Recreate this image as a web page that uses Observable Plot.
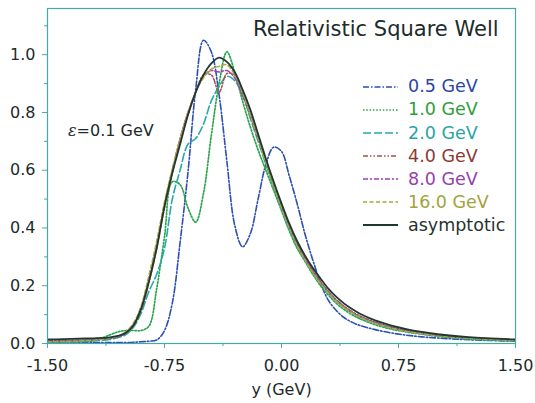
<!DOCTYPE html>
<html><head><meta charset="utf-8">
<script src="https://cdn.jsdelivr.net/npm/d3@7"></script>
<script src="https://cdn.jsdelivr.net/npm/@observablehq/plot@0.6"></script>
<style>
body{margin:0;background:#fff;}
#wrap{position:relative;width:535px;height:403px;font-family:"DejaVu Sans",sans-serif;overflow:hidden;}
#wrap > svg{position:absolute;left:0;top:0;}
.ov{position:absolute;white-space:nowrap;line-height:1;}
</style></head><body><div id="wrap"></div>
<script>
// ---- data ----
const seriesNames = ["0.5 GeV","1.0 GeV","2.0 GeV","4.0 GeV","8.0 GeV","16.0 GeV","asymptotic"];
const xGrid = [-1.5,-1.4,-1.3,-1.2,-1.1,-1.05,-1.0,-0.95,-0.9,-0.85,-0.8,-0.75,-0.7,-0.65,-0.6,-0.55,-0.5,-0.45,-0.4,-0.35,-0.3,-0.25,-0.2,-0.15,-0.1,-0.05,0,0.05,0.1,0.15,0.2,0.25,0.3,0.35,0.4,0.45,0.5,0.6,0.7,0.8,0.9,1.0,1.2,1.5];
const v05 = [0.002,0.002,0.002,0.003,0.003,0.003,0.003,0.004,0.006,0.008,0.012,0.045,0.14,0.35,0.59,0.88,1.05,1.01,0.86,0.63,0.41,0.335,0.38,0.5,0.62,0.68,0.665,0.58,0.485,0.38,0.29,0.21,0.15,0.115,0.09,0.074,0.063,0.048,0.037,0.029,0.023,0.019,0.013,0.008];
const v10 = [0.004,0.005,0.006,0.01,0.03,0.04,0.045,0.045,0.045,0.06,0.19,0.37,0.56,0.55,0.47,0.42,0.52,0.72,0.9,1.01,0.94,0.84,0.75,0.67,0.6,0.53,0.46,0.39,0.33,0.285,0.24,0.2,0.168,0.14,0.118,0.1,0.086,0.065,0.05,0.04,0.032,0.025,0.016,0.009];
const v20 = [0.006,0.007,0.008,0.01,0.014,0.02,0.03,0.055,0.105,0.18,0.24,0.33,0.5,0.6,0.69,0.71,0.76,0.84,0.89,0.925,0.91,0.86,0.78,0.7,0.62,0.54,0.465,0.395,0.338,0.29,0.25,0.21,0.176,0.148,0.125,0.107,0.092,0.07,0.054,0.043,0.034,0.027,0.017,0.01];
const v40 = [0.01,0.011,0.012,0.014,0.018,0.023,0.034,0.06,0.115,0.21,0.33,0.47,0.59,0.7,0.79,0.87,0.93,0.93,0.87,0.935,0.93,0.87,0.79,0.71,0.63,0.55,0.475,0.405,0.345,0.298,0.255,0.215,0.18,0.152,0.13,0.111,0.096,0.074,0.058,0.046,0.037,0.03,0.02,0.012];
const v80 = [0.008,0.009,0.011,0.013,0.018,0.024,0.036,0.064,0.122,0.22,0.34,0.48,0.6,0.71,0.8,0.87,0.925,0.945,0.94,0.945,0.92,0.86,0.79,0.71,0.63,0.55,0.475,0.405,0.345,0.295,0.25,0.212,0.178,0.15,0.127,0.109,0.094,0.072,0.056,0.044,0.035,0.028,0.019,0.011];
const v160 = [0.006,0.007,0.009,0.012,0.018,0.025,0.04,0.07,0.13,0.235,0.355,0.49,0.605,0.71,0.8,0.87,0.92,0.95,0.96,0.965,0.93,0.87,0.79,0.71,0.625,0.545,0.47,0.4,0.34,0.29,0.247,0.208,0.175,0.147,0.125,0.107,0.092,0.07,0.054,0.042,0.034,0.027,0.018,0.01];
const vAsym = [0.014,0.015,0.017,0.018,0.021,0.026,0.036,0.062,0.12,0.215,0.33,0.475,0.59,0.69,0.79,0.87,0.93,0.97,0.99,0.975,0.94,0.88,0.81,0.725,0.64,0.56,0.485,0.415,0.355,0.305,0.262,0.225,0.19,0.162,0.139,0.12,0.104,0.08,0.063,0.05,0.04,0.032,0.022,0.014];
const xTicks = [-1.5,-0.75,0,0.75,1.5];
const xMinorTicks = [-1.125,-0.375,0.375,1.125];
const yTicks = [0,0.2,0.4,0.6,0.8,1.0];
const yMinorTicks = [0.1,0.3,0.5,0.7,0.9,1.1];
const titleText = "Relativistic Square Well";
const xLabel = "y (GeV)";

// ---- styles ----
const lineColors = ["#2b4fb2","#2aa64a","#25a9ad","#a4504c","#9a40b0","#a9a83a","#1f3833"];
const textColors = ["#2a45a5","#2e9e38","#2aa3a6","#8a3a32","#9342aa","#a3a23e","#1f3431"];
const dashes = ["6,2,1.5,2","1.5,1.8","8,3","5,2,1.5,2,1.5,2","5,2,2,2","4,2.5",null];
const widths = [1.6,1.7,1.6,1.5,1.5,1.5,1.8];
const teal = "#45a9a9";
const ink = "#1c2b2b";

const allValues = [v05,v10,v20,v40,v80,v160,vAsym];
const rows = seriesNames.flatMap((s,i) => xGrid.map((x,j) => ({s, x, v: allValues[i][j]})));

const lineMarks = seriesNames.map((s,i) => Plot.line(rows.filter(r => r.s === s), {
  x: "x", y: "v", stroke: lineColors[i], strokeWidth: widths[i],
  strokeDasharray: dashes[i] || undefined, curve: "catmull-rom", clip: true
}));

const plot = Plot.plot({
  width: 535, height: 403,
  marginLeft: 47, marginRight: 20, marginTop: 8, marginBottom: 60,
  style: {fontFamily: "DejaVu Sans, sans-serif", fontSize: "16px", background: "white", color: ink},
  x: {domain: [-1.5, 1.5]},
  y: {domain: [0, 1.16]},
  marks: [
    ...lineMarks,
    Plot.frame({stroke: teal, strokeWidth: 1.2}),
    Plot.axisX({ticks: xTicks, tickSize: 5, tickPadding: 11, tickFormat: d => d.toFixed(2), stroke: teal, fill: ink, label: null, fontSize: 16}),
    Plot.axisX({ticks: xMinorTicks, tickSize: 3, tickFormat: () => "", stroke: teal, label: null}),
    Plot.axisY({ticks: yTicks, tickSize: 5, tickPadding: 7, tickFormat: d => d.toFixed(1), stroke: teal, fill: ink, label: null, fontSize: 16}),
    Plot.axisY({ticks: yMinorTicks, tickSize: 3, tickFormat: () => "", stroke: teal, label: null}),
    Plot.text([xLabel], {text: d => d, frameAnchor: "bottom", dy: 51, fill: ink, fontSize: 16})
  ]
});
const wrap = document.getElementById("wrap");
wrap.appendChild(plot);

function ov(html, left, top, size, color, extra) {
  const d = document.createElement("div");
  d.className = "ov";
  d.innerHTML = html;
  d.style.left = left + "px"; d.style.top = top + "px";
  d.style.fontSize = size + "px"; d.style.color = color;
  if (extra) Object.assign(d.style, extra);
  wrap.appendChild(d);
  return d;
}
// title
ov(titleText, 253, 29 - 0.48 * 21, 21, ink);
// epsilon annotation
ov('<span style="font-style:italic;font-family:\'DejaVu Serif\',serif">ε</span>=0.1 GeV', 68, 131 - 0.48 * 16, 16, ink);
// legend
seriesNames.forEach((s, i) => {
  const cy = 86.7 + i * 23.1;
  const sw = document.createElementNS("http://www.w3.org/2000/svg", "svg");
  sw.setAttribute("width", 36); sw.setAttribute("height", 6);
  sw.style.position = "absolute"; sw.style.left = "363px"; sw.style.top = (cy - 3) + "px";
  const ln = document.createElementNS("http://www.w3.org/2000/svg", "line");
  ln.setAttribute("x1", 0); ln.setAttribute("x2", 35); ln.setAttribute("y1", 3); ln.setAttribute("y2", 3);
  ln.setAttribute("stroke", lineColors[i]); ln.setAttribute("stroke-width", widths[i]);
  if (dashes[i]) ln.setAttribute("stroke-dasharray", dashes[i]);
  sw.appendChild(ln);
  wrap.appendChild(sw);
  ov(s, 408, cy - 0.48 * 17.5, 17.5, textColors[i]);
});
</script></body></html>
